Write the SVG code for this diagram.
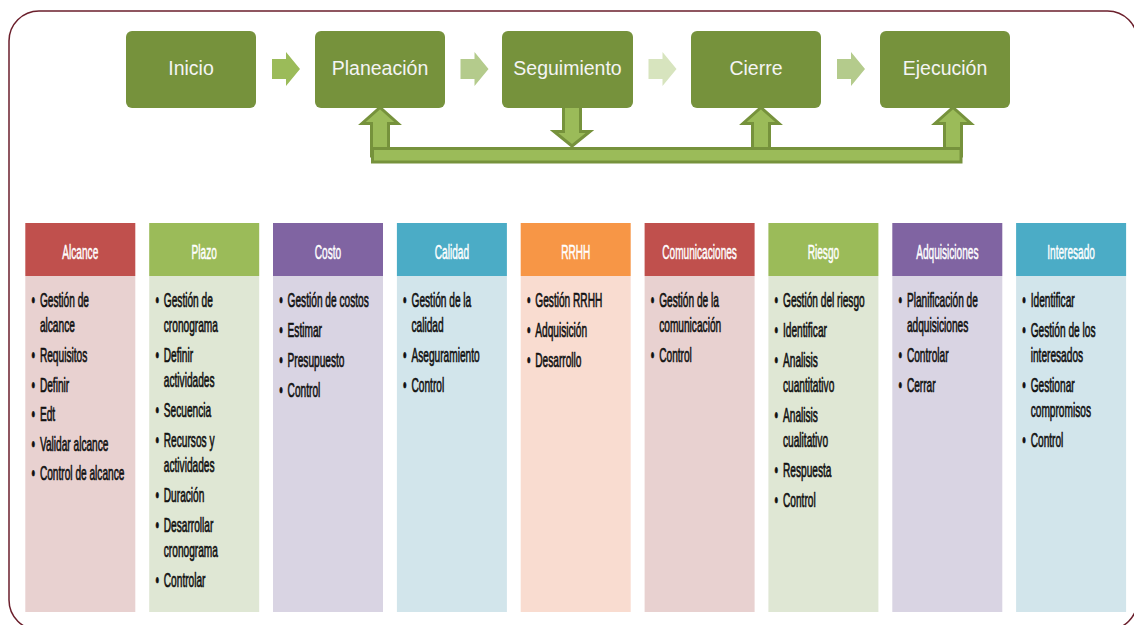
<svg xmlns="http://www.w3.org/2000/svg" width="1134" height="625" viewBox="0 0 1134 625">
  <style>
    .frame { fill: #ffffff; stroke: #6b1f2c; stroke-width: 1.5; }
    .phase { fill: #76923c; }
    .phase-label { font-family: "Liberation Sans", Arial, sans-serif; font-size: 19.5px; fill: #f4f4f4; text-anchor: middle; }
    .flow { stroke: none; }
    .loop { fill: #9bbb59; stroke: #76923c; stroke-width: 3; stroke-linejoin: miter; }
    .hdr-label { font-family: "Liberation Sans", Arial, sans-serif; font-size: 20px; fill: #ffffff; stroke: #ffffff; stroke-width: 0.5; text-anchor: middle; }
    .item { font-family: "Liberation Sans", Arial, sans-serif; font-size: 20.5px; fill: #111111; stroke: #111111; stroke-width: 0.7; }
    .red   { fill: #c0504d; } .red-b   { fill: #e8d1d0; }
    .green { fill: #9bbb59; } .green-b { fill: #dfe7d4; }
    .violet{ fill: #8064a2; } .violet-b{ fill: #d9d4e3; }
    .blue  { fill: #4bacc6; } .blue-b  { fill: #d2e5eb; }
    .orange{ fill: #f79646; } .orange-b{ fill: #f9dcd0; }
  </style>

  <!-- outer rounded frame -->
  <rect class="frame" x="9" y="11" width="1128.5" height="619" rx="30" ry="30"/>

  <!-- connectors: chevrons between phases and the feedback loop -->
  <g id="connectors">
    <path class="flow" fill="#9bbb59" d="M272,59 H286 V52 L300,69 L286,86 V79 H272 Z"/>
    <path class="flow" fill="#b4cb8c" d="M460.5,59 H474.5 V52 L488.5,69 L474.5,86 V79 H460.5 Z"/>
    <path class="flow" fill="#d7e4be" d="M648.5,59 H662.5 V52 L676.5,69 L662.5,86 V79 H648.5 Z"/>
    <path class="flow" fill="#b4cb8c" d="M837,59 H851 V52 L865,69 L851,86 V79 H837 Z"/>

    <!-- up arrows into Planeación, Cierre, Ejecución -->
    <path class="loop" d="M371.5,156 V123.5 H362 L380,107.5 L398,123.5 H388.5 V156 Z"/>
    <path class="loop" d="M752.5,156 V123.5 H743 L761,107.5 L779,123.5 H769.5 V156 Z"/>
    <path class="loop" d="M944.5,156 V123.5 H935 L953,107.5 L971,123.5 H961.5 V156 Z"/>
    <!-- down arrow out of Seguimiento -->
    <path class="loop" d="M563.5,104 V131.5 H554 L572,146 L590,131.5 H580.5 V104 Z"/>
    <!-- return bar -->
    <rect class="loop" x="372.5" y="148.5" width="588.5" height="13.5"/>
  </g>

  <!-- process phases -->
  <g id="phase-inicio">
    <rect class="phase" x="126" y="31" width="130" height="77" rx="6"/>
    <text class="phase-label" x="191" y="75">Inicio</text>
  </g>
  <g id="phase-planeacion">
    <rect class="phase" x="315" y="31" width="130" height="77" rx="6"/>
    <text class="phase-label" x="380" y="75">Planeación</text>
  </g>
  <g id="phase-seguimiento">
    <rect class="phase" x="502" y="31" width="131" height="77" rx="6"/>
    <text class="phase-label" x="567.5" y="75">Seguimiento</text>
  </g>
  <g id="phase-cierre">
    <rect class="phase" x="691" y="31" width="130" height="77" rx="6"/>
    <text class="phase-label" x="756" y="75">Cierre</text>
  </g>
  <g id="phase-ejecucion">
    <rect class="phase" x="880" y="31" width="130" height="77" rx="6"/>
    <text class="phase-label" x="945" y="75">Ejecución</text>
  </g>

  <!-- knowledge areas -->
  <g id="area-alcance">
    <rect class="red" x="25.3" y="223" width="110" height="53"/>
    <rect class="red-b" x="25.3" y="276" width="110" height="336"/>
    <text class="hdr-label" transform="translate(80.3 258.5) scale(0.505 1)">Alcance</text>
    <text class="item" transform="translate(25.3 0) scale(0.495 1)">
      <tspan x="12.5" y="307">•</tspan><tspan x="29.5" y="307">Gestión de</tspan>
      <tspan x="29.5" y="332">alcance</tspan>
      <tspan x="12.5" y="362">•</tspan><tspan x="29.5" y="362">Requisitos</tspan>
      <tspan x="12.5" y="391.7">•</tspan><tspan x="29.5" y="391.7">Definir</tspan>
      <tspan x="12.5" y="421.2">•</tspan><tspan x="29.5" y="421.2">Edt</tspan>
      <tspan x="12.5" y="450.7">•</tspan><tspan x="29.5" y="450.7">Validar alcance</tspan>
      <tspan x="12.5" y="480.2">•</tspan><tspan x="29.5" y="480.2">Control de alcance</tspan>
    </text>
  </g>

  <g id="area-plazo">
    <rect class="green" x="149.2" y="223" width="110" height="53"/>
    <rect class="green-b" x="149.2" y="276" width="110" height="336"/>
    <text class="hdr-label" transform="translate(204.2 258.5) scale(0.505 1)">Plazo</text>
    <text class="item" transform="translate(149.2 0) scale(0.495 1)">
      <tspan x="12.5" y="307">•</tspan><tspan x="29.5" y="307">Gestión de</tspan>
      <tspan x="29.5" y="332">cronograma</tspan>
      <tspan x="12.5" y="362">•</tspan><tspan x="29.5" y="362">Definir</tspan>
      <tspan x="29.5" y="387">actividades</tspan>
      <tspan x="12.5" y="417">•</tspan><tspan x="29.5" y="417">Secuencia</tspan>
      <tspan x="12.5" y="447">•</tspan><tspan x="29.5" y="447">Recursos y</tspan>
      <tspan x="29.5" y="472">actividades</tspan>
      <tspan x="12.5" y="502">•</tspan><tspan x="29.5" y="502">Duración</tspan>
      <tspan x="12.5" y="532">•</tspan><tspan x="29.5" y="532">Desarrollar</tspan>
      <tspan x="29.5" y="557">cronograma</tspan>
      <tspan x="12.5" y="587">•</tspan><tspan x="29.5" y="587">Controlar</tspan>
    </text>
  </g>

  <g id="area-costo">
    <rect class="violet" x="273" y="223" width="110" height="53"/>
    <rect class="violet-b" x="273" y="276" width="110" height="336"/>
    <text class="hdr-label" transform="translate(328 258.5) scale(0.505 1)">Costo</text>
    <text class="item" transform="translate(273 0) scale(0.495 1)">
      <tspan x="12.5" y="307">•</tspan><tspan x="29.5" y="307">Gestión de costos</tspan>
      <tspan x="12.5" y="337">•</tspan><tspan x="29.5" y="337">Estimar</tspan>
      <tspan x="12.5" y="367">•</tspan><tspan x="29.5" y="367">Presupuesto</tspan>
      <tspan x="12.5" y="397">•</tspan><tspan x="29.5" y="397">Control</tspan>
    </text>
  </g>

  <g id="area-calidad">
    <rect class="blue" x="396.9" y="223" width="110" height="53"/>
    <rect class="blue-b" x="396.9" y="276" width="110" height="336"/>
    <text class="hdr-label" transform="translate(451.9 258.5) scale(0.505 1)">Calidad</text>
    <text class="item" transform="translate(396.9 0) scale(0.495 1)">
      <tspan x="12.5" y="307">•</tspan><tspan x="29.5" y="307">Gestión de la</tspan>
      <tspan x="29.5" y="332">calidad</tspan>
      <tspan x="12.5" y="362">•</tspan><tspan x="29.5" y="362">Aseguramiento</tspan>
      <tspan x="12.5" y="392">•</tspan><tspan x="29.5" y="392">Control</tspan>
    </text>
  </g>

  <g id="area-rrhh">
    <rect class="orange" x="520.7" y="223" width="110" height="53"/>
    <rect class="orange-b" x="520.7" y="276" width="110" height="336"/>
    <text class="hdr-label" transform="translate(575.7 258.5) scale(0.505 1)">RRHH</text>
    <text class="item" transform="translate(520.7 0) scale(0.495 1)">
      <tspan x="12.5" y="307">•</tspan><tspan x="29.5" y="307">Gestión RRHH</tspan>
      <tspan x="12.5" y="337">•</tspan><tspan x="29.5" y="337">Adquisición</tspan>
      <tspan x="12.5" y="367">•</tspan><tspan x="29.5" y="367">Desarrollo</tspan>
    </text>
  </g>

  <g id="area-comunicaciones">
    <rect class="red" x="644.6" y="223" width="110" height="53"/>
    <rect class="red-b" x="644.6" y="276" width="110" height="336"/>
    <text class="hdr-label" transform="translate(699.6 258.5) scale(0.505 1)">Comunicaciones</text>
    <text class="item" transform="translate(644.6 0) scale(0.495 1)">
      <tspan x="12.5" y="307">•</tspan><tspan x="29.5" y="307">Gestión de la</tspan>
      <tspan x="29.5" y="332">comunicación</tspan>
      <tspan x="12.5" y="362">•</tspan><tspan x="29.5" y="362">Control</tspan>
    </text>
  </g>

  <g id="area-riesgo">
    <rect class="green" x="768.4" y="223" width="110" height="53"/>
    <rect class="green-b" x="768.4" y="276" width="110" height="336"/>
    <text class="hdr-label" transform="translate(823.4 258.5) scale(0.505 1)">Riesgo</text>
    <text class="item" transform="translate(768.4 0) scale(0.495 1)">
      <tspan x="12.5" y="307">•</tspan><tspan x="29.5" y="307">Gestión del riesgo</tspan>
      <tspan x="12.5" y="337">•</tspan><tspan x="29.5" y="337">Identificar</tspan>
      <tspan x="12.5" y="367">•</tspan><tspan x="29.5" y="367">Analisis</tspan>
      <tspan x="29.5" y="392">cuantitativo</tspan>
      <tspan x="12.5" y="422">•</tspan><tspan x="29.5" y="422">Analisis</tspan>
      <tspan x="29.5" y="447">cualitativo</tspan>
      <tspan x="12.5" y="477">•</tspan><tspan x="29.5" y="477">Respuesta</tspan>
      <tspan x="12.5" y="507">•</tspan><tspan x="29.5" y="507">Control</tspan>
    </text>
  </g>

  <g id="area-adquisiciones">
    <rect class="violet" x="892.3" y="223" width="110" height="53"/>
    <rect class="violet-b" x="892.3" y="276" width="110" height="336"/>
    <text class="hdr-label" transform="translate(947.3 258.5) scale(0.505 1)">Adquisiciones</text>
    <text class="item" transform="translate(892.3 0) scale(0.495 1)">
      <tspan x="12.5" y="307">•</tspan><tspan x="29.5" y="307">Planificación de</tspan>
      <tspan x="29.5" y="332">adquisiciones</tspan>
      <tspan x="12.5" y="362">•</tspan><tspan x="29.5" y="362">Controlar</tspan>
      <tspan x="12.5" y="392">•</tspan><tspan x="29.5" y="392">Cerrar</tspan>
    </text>
  </g>

  <g id="area-interesado">
    <rect class="blue" x="1016.1" y="223" width="110" height="53"/>
    <rect class="blue-b" x="1016.1" y="276" width="110" height="336"/>
    <text class="hdr-label" transform="translate(1071.1 258.5) scale(0.505 1)">Interesado</text>
    <text class="item" transform="translate(1016.1 0) scale(0.495 1)">
      <tspan x="12.5" y="307">•</tspan><tspan x="29.5" y="307">Identificar</tspan>
      <tspan x="12.5" y="337">•</tspan><tspan x="29.5" y="337">Gestión de los</tspan>
      <tspan x="29.5" y="362">interesados</tspan>
      <tspan x="12.5" y="392">•</tspan><tspan x="29.5" y="392">Gestionar</tspan>
      <tspan x="29.5" y="417">compromisos</tspan>
      <tspan x="12.5" y="447">•</tspan><tspan x="29.5" y="447">Control</tspan>
    </text>
  </g>
</svg>
